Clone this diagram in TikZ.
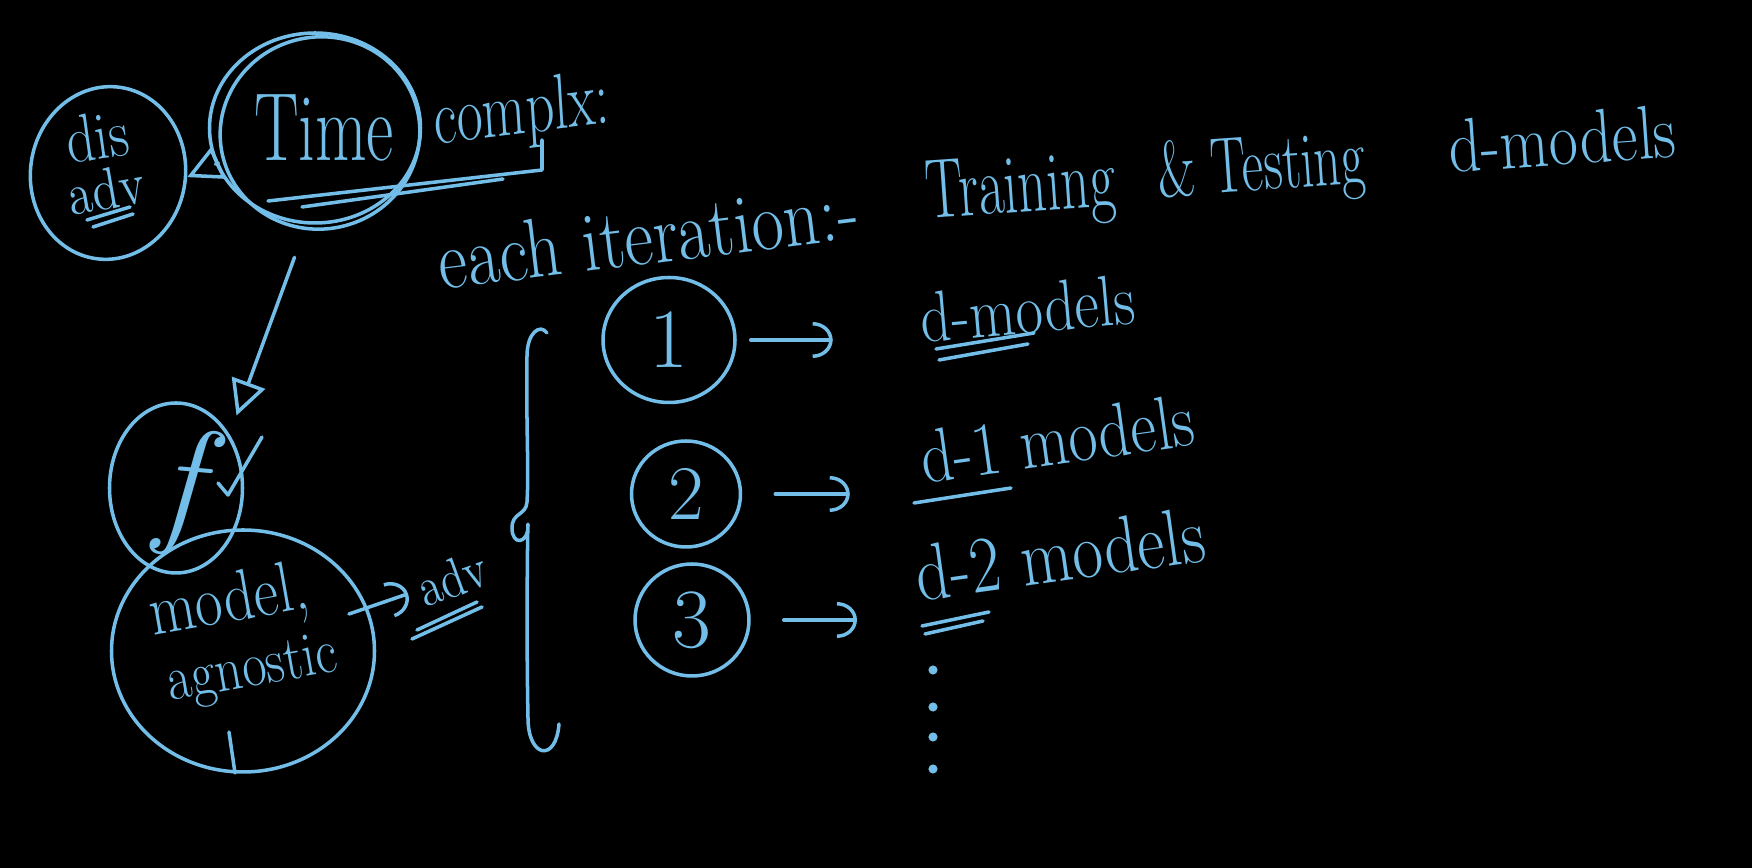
\documentclass[tikz,border=0pt]{standalone}
\usepackage{tikz}
\usetikzlibrary{shapes.geometric,arrows.meta,calc}
\definecolor{kreda}{RGB}{115,190,232}

\begin{document}
\begin{tikzpicture}[
    x=0.1mm, y=0.1mm,
    potez/.style={draw=kreda,line width=1pt,line cap=round,line join=round},
    krug/.style={ellipse,potez,inner sep=0pt},
    natpis/.style={text=kreda,inner sep=1pt,font=\fontsize{16}{16}\selectfont},
    strelica/.style={potez,-{Arc Barb[length=2mm,width=3.6mm]}},
    otvorena/.style={potez,-{Triangle[open,length=3.5mm,width=3.5mm]}}
]
\fill[black] (0,0) rectangle (1752,868);

% top left: dis adv <- Time complx:
\node[krug,minimum width=1.55cm,minimum height=1.73cm,rotate=-8] (disadv) at (108,695) {};
\node[natpis,rotate=8,yscale=1.2,inner sep=0pt] (distxt) at (97,732) {dis};
\node[natpis,rotate=10,yscale=1.2,inner sep=0pt,font=\fontsize{14}{14}\selectfont] (advtxt) at (106,679) {adv};
\draw[potez] (87,648) -- (130,661);
\draw[potez] (93,641) -- (133,654);

\node[krug,minimum width=2.11cm,minimum height=1.9cm] (time) at (315,740) {};
\draw[potez,rotate around={12:(320,735)}] (320,735) ellipse (1cm and 0.96cm);
\node[natpis,yscale=1.45,font=\fontsize{19}{19}\selectfont] (timetxt) at (324,740) {Time};
\node[natpis,yscale=1.4,rotate=5] (kompl) at (522,754) {complx:};
\draw[potez] (268,667) -- (542,698) -- (542,728);
\draw[potez] (302,661) -- (503,689);
\draw[otvorena] (time.200) -- (disadv.5);

% iteration line
\node[natpis,rotate=7,yscale=1.2,font=\fontsize{20}{20}\selectfont] (iter) at (648,633) {each iteration:-};
\node[natpis,anchor=base,rotate=4,yscale=1.5] (trn) at (1022,656) {Training};
\node[natpis,anchor=base,rotate=4,yscale=1.5,font=\fontsize{15}{15}\selectfont] (tst) at (1263,678) {\& Testing};
\node[natpis,anchor=base,rotate=4,yscale=1.2,font=\fontsize{18}{18}\selectfont] (dmod) at (1564,703) {d-models};

% f and model agnostic
\node[krug,minimum width=1.33cm,minimum height=1.7cm] (f) at (176,380) {};
\node[natpis,rotate=-5,font=\fontsize{40}{40}\selectfont\itshape] (ftxt) at (180,376) {f};
\draw[otvorena,shorten <=3.5mm,shorten >=2mm] (time.265) -- (f.45);
\draw[potez] (218,385) -- (228,373) -- (262,431);

\node[krug,minimum width=2.63cm,minimum height=2.42cm] (agn) at (243,217) {};
\node[natpis,rotate=10,yscale=1.2,inner sep=0pt,font=\fontsize{17}{17}\selectfont] (modl) at (229,264) {model,};
\node[natpis,rotate=10,yscale=1.2,inner sep=0pt,font=\fontsize{15}{15}\selectfont] (agno) at (253,196) {agnostic};
\draw[potez] (229,136) -- (235,95);

\node[natpis,rotate=20,yscale=1.2,inner sep=0pt,font=\fontsize{13}{13}\selectfont] (advr) at (452,290) {adv};
\coordinate (agnout) at (349,254);
\draw[strelica,shorten >=3pt] (agnout) -- (advr.west);
\draw[potez] (412,229) -- (482,261);
\draw[potez] (417,238) -- (477,266);

% brace
\draw[potez] (547,535) .. controls (540,545) and (527,535) .. (527,512)
    .. controls (526,440) and (529,400) .. (527,366)
    .. controls (526,352) and (512,356) .. (512,340)
    .. controls (512,322) and (528,324) .. (528,342)
    .. controls (528,360) and (526,250) .. (528,150)
    .. controls (528,110) and (556,105) .. (559,144);

% steps
\node[krug,minimum width=1.32cm,minimum height=1.25cm] (c1) at (669,528) {};
\node[natpis,font=\fontsize{24}{24}\selectfont] (n1) at (c1) {1};
\node[krug,minimum width=1.09cm,minimum height=1.06cm] (c2) at (686,374) {};
\node[natpis,font=\fontsize{22}{22}\selectfont] (n2) at (c2) {2};
\node[krug,minimum width=1.14cm,minimum height=1.12cm] (c3) at (692,248) {};
\node[natpis,font=\fontsize{24}{24}\selectfont] (n3) at (c3) {3};

\node[natpis,anchor=base,rotate=5,yscale=1.2,font=\fontsize{17}{17}\selectfont] (dm1) at (1030,535) {d-models};
\node[natpis,anchor=base,rotate=8,yscale=1.2,font=\fontsize{18}{18}\selectfont] (dm2) at (1061,404) {d-1 models};
\node[natpis,anchor=base,rotate=8,yscale=1.2,font=\fontsize{19}{19}\selectfont] (dm3) at (1064,287) {d-2 models};

\draw[strelica,shorten <=1.4mm,shorten >=8.4mm] (c1.east) -- (c1.east -| dm1.west);
\draw[strelica,shorten <=3.3mm,shorten >=6.7mm] (c2.east) -- (c2.east -| dm2.west);
\draw[strelica,shorten <=3.3mm,shorten >=5.5mm] (c3.east) -- (c3.east -| dm3.west);

\draw[potez] (936,519) -- (1034,535);
\draw[potez] (939,508) -- (1028,524);
\draw[potez] (914,365) -- (1011,380);
\draw[potez] (922,242) -- (989,256);
\draw[potez] (925,234) -- (983,247);

\fill[kreda] (933,198) circle (1.3pt);
\fill[kreda] (933,161) circle (1.3pt);
\fill[kreda] (933,131) circle (1.3pt);
\fill[kreda] (933,99) circle (1.3pt);
\end{tikzpicture}
\end{document}
